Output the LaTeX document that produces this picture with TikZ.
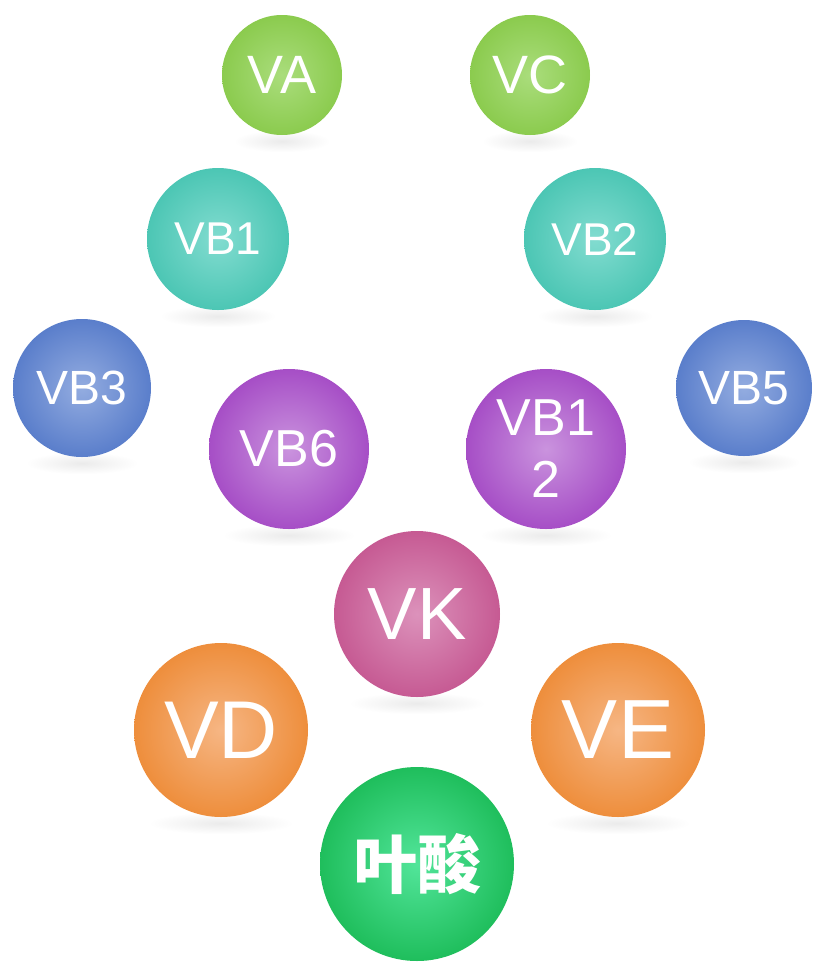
\documentclass[tikz,border=0pt]{standalone}
\usepackage{fontspec}
\setmainfont{Liberation Sans}
\newfontfamily\cjkfont{Noto Sans CJK SC}
\usepackage{tikz}
\usetikzlibrary{backgrounds}
\definecolor{LimeDark}{HTML}{8BCB4E}
\definecolor{LimeLight}{HTML}{AADD7C}
\definecolor{TealDark}{HTML}{4CC6B4}
\definecolor{TealLight}{HTML}{82DCD0}
\definecolor{BlueDark}{HTML}{5A7ECB}
\definecolor{BlueLight}{HTML}{93ACE0}
\definecolor{VioletDark}{HTML}{A64EC6}
\definecolor{VioletLight}{HTML}{CA93DE}
\definecolor{RoseDark}{HTML}{C65A93}
\definecolor{RoseLight}{HTML}{DC92BB}
\definecolor{OrangeDark}{HTML}{EE8E3C}
\definecolor{OrangeLight}{HTML}{F6B684}
\definecolor{LeafDark}{HTML}{1FBE5C}
\definecolor{LeafLight}{HTML}{52E59A}

\begin{document}
\begin{tikzpicture}[x=1pt,y=-1pt]
  \tikzstyle{ball}=[circle,inner sep=0pt,text=white,align=center,shading=radial]
  \tikzstyle{limeball}=[ball,inner color=LimeLight,outer color=LimeDark]
  \tikzstyle{tealball}=[ball,inner color=TealLight,outer color=TealDark]
  \tikzstyle{blueball}=[ball,inner color=BlueLight,outer color=BlueDark]
  \tikzstyle{violetball}=[ball,inner color=VioletLight,outer color=VioletDark]
  \tikzstyle{roseball}=[ball,inner color=RoseLight,outer color=RoseDark]
  \tikzstyle{orangeball}=[ball,inner color=OrangeLight,outer color=OrangeDark]
  \tikzstyle{leafball}=[ball,inner color=LeafLight,outer color=LeafDark]
  \tikzstyle{mirror}=[shading=radial,inner color=gray!16,outer color=white]
  \useasboundingbox (0,0) rectangle (812,962);
  % vitamins
  \node[limeball,minimum size=120pt,font=\fontsize{54}{54}\selectfont] (va) at (282,75) {VA};
  \node[limeball,minimum size=120pt,font=\fontsize{54}{54}\selectfont] (vc) at (530,75) {VC};
  \node[tealball,minimum size=142pt,font=\fontsize{46}{46}\selectfont] (vb1) at (218,239) {VB1};
  \node[tealball,minimum size=142pt,font=\fontsize{46}{46}\selectfont] (vb2) at (595,239) {VB2};
  \node[blueball,minimum size=138pt,font=\fontsize{48}{48}\selectfont] (vb3) at (82,388) {VB3};
  \node[blueball,minimum size=136pt,font=\fontsize{48}{48}\selectfont] (vb5) at (744,388) {VB5};
  \node[violetball,minimum size=160pt,font=\fontsize{52}{52}\selectfont] (vb6) at (289,449) {VB6};
  \node[violetball,minimum size=160pt,font=\fontsize{52}{62}\selectfont] (vb12) at (546,449) {VB1\\2};
  \node[roseball,minimum size=166pt,font=\fontsize{74}{74}\selectfont] (vk) at (417,614) {VK};
  \node[orangeball,minimum size=174pt,font=\fontsize{82}{82}\selectfont] (vd) at (221,730) {VD};
  \node[orangeball,minimum size=174pt,font=\fontsize{84}{84}\selectfont] (ve) at (618,730) {VE};
  \node[leafball,minimum size=194pt,font=\cjkfont\bfseries\fontsize{64}{64}\selectfont] (folate) at (417,864) {叶酸};
  % reflections
  \begin{scope}[on background layer]
    \fill[white] (0,0) rectangle (812,962);
    \foreach \b/\w in {va/48,vc/48,vb1/58,vb2/58,vb3/56,vb5/56,vb6/66,vb12/66,vk/68,vd/72,ve/72}
      \shade[mirror] ([yshift=-6pt]\b.south) ellipse (\w pt and 11pt);
  \end{scope}
\end{tikzpicture}
\end{document}
